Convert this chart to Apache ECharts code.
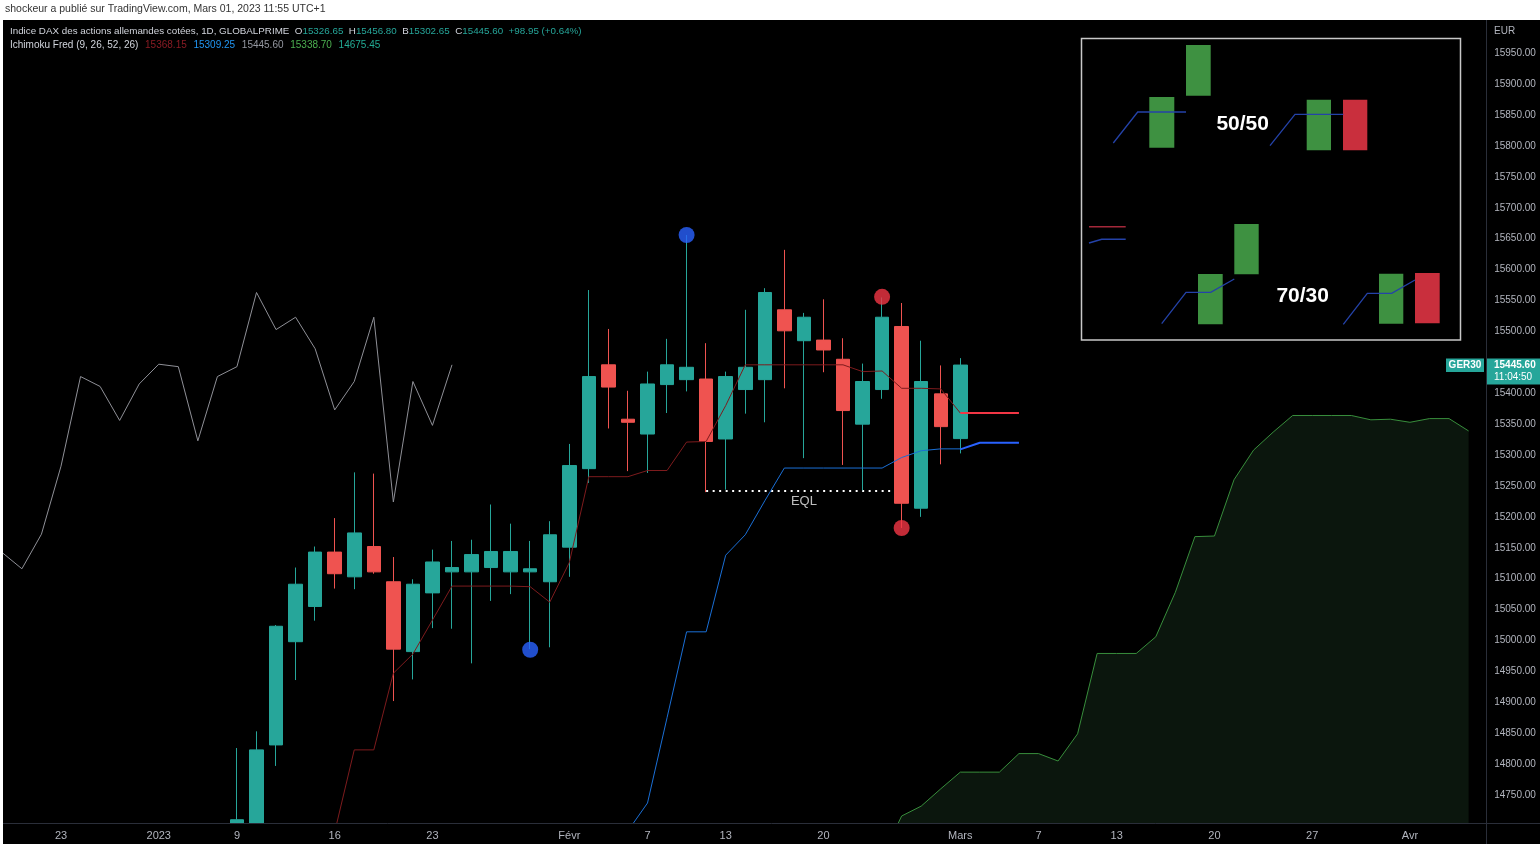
<!DOCTYPE html>
<html><head><meta charset="utf-8">
<script src="https://cdn.jsdelivr.net/npm/echarts@6/dist/echarts.min.js"></script>
<style>html,body{margin:0;padding:0;background:#000;}#chart{width:1540px;height:844px;}</style>
</head><body><div id="chart"></div>
<script>
// ---------- DATA ----------
const categories = [
 '2022-12-20','2022-12-21','2022-12-22','2022-12-23','2022-12-27','2022-12-28','2022-12-29','2022-12-30',
 '2023-01-03','2023-01-04','2023-01-05','2023-01-06','2023-01-09','2023-01-10','2023-01-11','2023-01-12','2023-01-13',
 '2023-01-16','2023-01-17','2023-01-18','2023-01-19','2023-01-20','2023-01-23','2023-01-24','2023-01-25','2023-01-26','2023-01-27',
 '2023-01-30','2023-01-31','2023-02-01','2023-02-02','2023-02-03','2023-02-06','2023-02-07','2023-02-08','2023-02-09','2023-02-10',
 '2023-02-13','2023-02-14','2023-02-15','2023-02-16','2023-02-17','2023-02-20','2023-02-21','2023-02-22','2023-02-23','2023-02-24',
 '2023-02-27','2023-02-28','2023-03-01','2023-03-02','2023-03-03','2023-03-06','2023-03-07','2023-03-08','2023-03-09','2023-03-10',
 '2023-03-13','2023-03-14','2023-03-15','2023-03-16','2023-03-17','2023-03-20','2023-03-21','2023-03-22','2023-03-23','2023-03-24',
 '2023-03-27','2023-03-28','2023-03-29','2023-03-30','2023-03-31','2023-04-03','2023-04-04','2023-04-05','2023-04-06','2023-04-07'
];
const xTickDates  = ['2022-12-23','2023-01-03','2023-01-09','2023-01-16','2023-01-23','2023-02-01','2023-02-07','2023-02-13','2023-02-20','2023-03-01','2023-03-07','2023-03-13','2023-03-20','2023-03-27','2023-04-03'];
const xTickLabels = ['23','2023','9','16','23','Févr','7','13','20','Mars','7','13','20','27','Avr'];

// daily candles (first visible bar: 2023-01-09)
const candleStart = '2023-01-09';
const openPrices  = [14640,14690,14831,14998,15055,15143,15103,15152,15095,14982,15077,15111,15111,15118,15111,15111,15095,15151,15278,15446,15358,15334,15414,15422,15423,15326,15406,15422,15535,15485,15486,15455,15350,15406,15508,15214,15399,15326.65];
const highPrices  = [14826,14853,15025,15118,15152,15198,15272,15270,15135,15099,15147,15161,15163,15220,15189,15161,15193,15318,15567,15504,15404,15435,15488,15656,15481,15435,15535,15570,15632,15530,15552,15489,15448,15555,15546,15485,15445,15456.80];
const lowPrices   = [14620,14665,14797,14936,15032,15084,15083,15108,14902,14937,15020,15019,14963,15064,15075,14986,14989,15103,15255,15343,15274,15271,15368,15403,15240,15244,15367,15353,15408,15295,15434,15284,15243,15391,15182,15200,15285,15302.65];
const closePrices = [14710,14823,15023,15091,15143,15108,15174,15111,14986,15091,15127,15118,15139,15144,15144,15116,15171,15283,15427,15410,15353,15415,15446,15442,15322,15427,15442,15563,15501,15523,15470,15372,15419,15523,15222,15419,15346,15445.60];

// Ichimoku lines
const laggingStart = '2022-12-20';
const laggingSpan  = [15142,15116,15172,15282,15427,15411,15356,15415,15447,15443,15323,15427,15443,15563,15503,15523,15472,15373,15419,15523,15224,15419,15348,15446];
const tenkanStart  = '2023-01-16';
const tenkanLine   = [14690,14823,14823,14947,14978,15033,15088,15088,15088,15088,15087,15062,15126,15265,15265,15265,15275,15275,15321,15322,15380,15446,15446,15446,15446,15446,15446,15435,15436,15408,15408,15407,15368];
const tenkanFwdStart = '2023-03-01';
const tenkanForward  = [15368.15,15368.15,15368.15,15368.15];
const kijunStart   = '2023-02-06';
const kijunLine    = [14692,14737,14875,15014,15014,15138,15171,15226,15279,15279,15279,15279,15279,15279,15296,15307,15310,15310];
const kijunFwdStart = '2023-03-01';
const kijunForward  = [15309.25,15320,15320,15320];
const senkouAStart = '2023-02-23';
const senkouA      = [14650,14716,14732,14760,14787,14787,14787,14817,14817,14805,14849,14979,14979,14979,15006,15078,15168,15169,15260,15308,15337,15364,15364,15364,15364,15357,15358,15353,15359,15359,15339];

// annotations
const markerDates  = ['2023-01-30','2023-02-09','2023-02-23','2023-02-24'];
const markerValues = [14985,15656,15556,15182];
const markerKinds  = ['bull','bull','bear','bear'];
const eqlLevel = 15242, eqlFrom = '2023-02-10', eqlTo = '2023-02-24', eqlLabelDate = '2023-02-17';
const lastPrice = 15445.60;

// ---------- BUILD ----------
function align(start, values){
  const s = categories.indexOf(start);
  return categories.map((d,i)=> (i>=s && i-s<values.length) ? values[i-s] : null);
}
const cs = categories.indexOf(candleStart);
const candleData = categories.map((d,i)=>{
  const k=i-cs;
  return (k>=0 && k<openPrices.length) ? [openPrices[k],closePrices[k],lowPrices[k],highPrices[k]] : '-';
});
const fi = categories.indexOf(eqlFrom), ti = categories.indexOf(eqlTo);
const eqlData = categories.map((d,i)=> (i>=fi && i<=ti) ? eqlLevel : null);
const tickMap = {}; xTickDates.forEach((d,i)=> tickMap[d]=xTickLabels[i]);
const kindColor = {bull:'#2962ff', bear:'#f23645'};

const FONT = 'Liberation Sans';
const chart = echarts.init(document.getElementById('chart'));

const insetGreen = '#3e9141', insetRed = '#c92f3d', insetBlue = '#2442a8';
function r(x,y,w,h,c){return {type:'rect',z:101,shape:{x,y,width:w,height:h},style:{fill:c}};}
function pl(pts,c,w){return {type:'polyline',z:102,shape:{points:pts},style:{stroke:c,lineWidth:w||1.3,fill:null}};}

const staticGraphics = [
  {type:'rect',id:'topWhite',z:100,shape:{x:0,y:0,width:1540,height:20},style:{fill:'#ffffff'}},
  {type:'rect',id:'leftWhite',z:100,shape:{x:0,y:0,width:3,height:844},style:{fill:'#ffffff'}},
  {type:'text',id:'pub',z:101,style:{x:5,y:9,text:'shockeur a publié sur TradingView.com, Mars 01, 2023 11:55 UTC+1',fill:'#333333',font:'10.5px "'+FONT+'"',verticalAlign:'middle'}},
  {type:'rect',id:'bottomMask',z:40,shape:{x:3,y:824,width:1483,height:20},style:{fill:'#000000'}},
  {type:'line',id:'hsep',z:45,shape:{x1:3,y1:823.5,x2:1540,y2:823.5},style:{stroke:'#2a2e39',lineWidth:1}},
  {type:'line',id:'vsep',z:45,shape:{x1:1486.5,y1:20,x2:1486.5,y2:844},style:{stroke:'#2a2e39',lineWidth:1}},
  {type:'text',id:'eur',z:50,style:{x:1494,y:31,text:'EUR',fill:'#b2b5be',font:'10px "'+FONT+'"',verticalAlign:'middle'}},
  {type:'text',id:'h1',z:50,style:{x:10,y:31,verticalAlign:'middle',
    text:'{t|Indice DAX des actions allemandes cotées, 1D, GLOBALPRIME}{g| }{t|O}{v|15326.65}{g| }{t|H}{v|15456.80}{g| }{t|B}{v|15302.65}{g| }{t|C}{v|15445.60}{g| }{v|+98.95 (+0.64%)}',
    rich:{t:{fill:'#d1d4dc',font:'9.8px "'+FONT+'"'},v:{fill:'#26a69a',font:'9.8px "'+FONT+'"'},g:{width:5.5,font:'9.8px "'+FONT+'"'}}}},
  {type:'text',id:'h2',z:50,style:{x:10,y:45,verticalAlign:'middle',
    text:'{t|Ichimoku Fred (9, 26, 52, 26)}  {a|15368.15}  {b|15309.25}  {c|15445.60}  {d|15338.70}  {e|14675.45}',
    rich:{t:{fill:'#d1d4dc',font:'10px "'+FONT+'"'},a:{fill:'#8a1c24',font:'10px "'+FONT+'"'},b:{fill:'#2196f3',font:'10px "'+FONT+'"'},
          c:{fill:'#9598a1',font:'10px "'+FONT+'"'},d:{fill:'#4caf50',font:'10px "'+FONT+'"'},e:{fill:'#22ab94',font:'10px "'+FONT+'"'}}}},
  {type:'group',id:'inset',z:100,children:[
    {type:'rect',z:100,shape:{x:1081.5,y:38.5,width:379,height:301.5},style:{fill:'#000',stroke:'#c8c8c8',lineWidth:1.5}},
    r(1186,45,24.7,50.7,insetGreen),
    r(1149.3,97,25,50.7,insetGreen),
    r(1306.7,99.7,24.3,50.6,insetGreen),
    r(1343,99.7,24.3,50.6,insetRed),
    r(1234.3,224,24.4,50.3,insetGreen),
    r(1198,274,24.7,50.3,insetGreen),
    r(1379,273.7,24.3,50,insetGreen),
    r(1415,273,24.7,50.3,insetRed),
    pl([[1113.3,143],[1137.7,112],[1186,112]],insetBlue),
    pl([[1270,145.7],[1295,114.3],[1343.3,114.3]],insetBlue),
    pl([[1089,243],[1101.7,239.3],[1125.7,239.3]],insetBlue,1.6),
    pl([[1161.7,323.7],[1186,292.3],[1210.7,292.3],[1234.3,279]],insetBlue),
    pl([[1343.3,324.3],[1367.3,293.3],[1391.7,293.3],[1415,280]],insetBlue),
    pl([[1089,226.7],[1125.7,226.7]],'#a3283a',1.6),
    {type:'text',z:103,style:{x:1242.7,y:124,text:'50/50',fill:'#ffffff',font:'bold 21px "'+FONT+'"',align:'center',verticalAlign:'middle'}},
    {type:'text',z:103,style:{x:1302.7,y:296,text:'70/30',fill:'#ffffff',font:'bold 21px "'+FONT+'"',align:'center',verticalAlign:'middle'}}
  ]}
];

const lineBase = {type:'line',showSymbol:false,symbol:'none',connectNulls:false,animation:false,z:3,clip:true};

chart.setOption({
  backgroundColor:'#000000',
  animation:false,
  textStyle:{fontFamily:FONT},
  grid:{left:2.35,right:51.85,top:22.4,bottom:18.1,containLabel:false},
  xAxis:{type:'category',data:categories,boundaryGap:false,z:60,
    axisLine:{show:false},axisTick:{show:false},splitLine:{show:false},
    axisLabel:{color:'#b2b5be',fontSize:11,margin:4.5,hideOverlap:false,
      interval:(idx,val)=> tickMap[val]!==undefined,
      formatter:(val)=> tickMap[val] || ''}},
  yAxis:{type:'value',position:'right',min:14700,max:16000,interval:50,scale:true,z:60,
    axisLine:{show:false},axisTick:{show:false},splitLine:{show:false},
    axisLabel:{color:'#b2b5be',fontSize:10,margin:6,showMinLabel:false,showMaxLabel:false,
      // labels hidden under the last-price tag, as on the source chart
      formatter:(v)=> Math.abs(v-lastPrice) < 20 ? '' : v.toFixed(2)}},
  series:[
    Object.assign({},lineBase,{name:'senkouA',data:align(senkouAStart,senkouA),z:1,
      lineStyle:{color:'#388e3c',width:1},areaStyle:{color:'#0b160d',opacity:1,origin:'start'}}),
    Object.assign({},lineBase,{name:'eql',data:eqlData,z:1,
      lineStyle:{color:'#ffffff',width:2,type:[2,4.5],cap:'butt'}}),
    {type:'candlestick',name:'DAX',data:candleData,barWidth:14,clip:true,z:2,
      itemStyle:{color:'#26a69a',color0:'#ef5350',borderColor:'#26a69a',borderColor0:'#ef5350',borderWidth:1}},
    Object.assign({},lineBase,{name:'lagging',data:align(laggingStart,laggingSpan),lineStyle:{color:'#8f9097',width:1}}),
    Object.assign({},lineBase,{name:'tenkan',data:align(tenkanStart,tenkanLine),lineStyle:{color:'#7d1b1d',width:1}}),
    Object.assign({},lineBase,{name:'kijun',data:align(kijunStart,kijunLine),lineStyle:{color:'#1a6fd6',width:1}}),
    Object.assign({},lineBase,{name:'tenkanFwd',data:align(tenkanFwdStart,tenkanForward),lineStyle:{color:'#f23645',width:2}}),
    Object.assign({},lineBase,{name:'kijunFwd',data:align(kijunFwdStart,kijunForward),lineStyle:{color:'#2962ff',width:2}}),
    {type:'scatter',name:'markers',z:4,symbolSize:16,animation:false,
      data:markerDates.map((d,i)=>({value:[d,markerValues[i]],itemStyle:{color:kindColor[markerKinds[i]]}}))},
    {type:'scatter',name:'eqlLabel',z:4,symbolSize:1,animation:false,
      itemStyle:{color:'rgba(0,0,0,0)'},
      label:{show:true,position:'bottom',distance:4,formatter:'EQL',color:'#eeeeee',fontSize:13,fontFamily:FONT},
      data:[[eqlLabelDate,eqlLevel]]}
  ],
  graphic:{elements:staticGraphics}
});

// price tag placed from the last price through the axis scale
const py = chart.convertToPixel({yAxisIndex:0}, lastPrice);
chart.setOption({graphic:{elements:[
  {type:'rect',id:'tagBox',z:110,shape:{x:1487,y:py-6.5,width:53,height:26},style:{fill:'#26a69a'}},
  {type:'text',id:'tagP',z:111,style:{x:1494,y:py,text:lastPrice.toFixed(2),fill:'#ffffff',font:'bold 10px "'+FONT+'"',verticalAlign:'middle'}},
  {type:'text',id:'tagT',z:111,style:{x:1494,y:py+12.5,text:'11:04:50',fill:'#ffffff',font:'10px "'+FONT+'"',verticalAlign:'middle'}},
  {type:'rect',id:'gerBox',z:110,shape:{x:1446,y:py-6.5,width:38,height:13.5},style:{fill:'#26a69a'}},
  {type:'text',id:'gerT',z:111,style:{x:1465,y:py+0.3,text:'GER30',fill:'#ffffff',font:'bold 10px "'+FONT+'"',align:'center',verticalAlign:'middle'}}
]}});
</script></body></html>
